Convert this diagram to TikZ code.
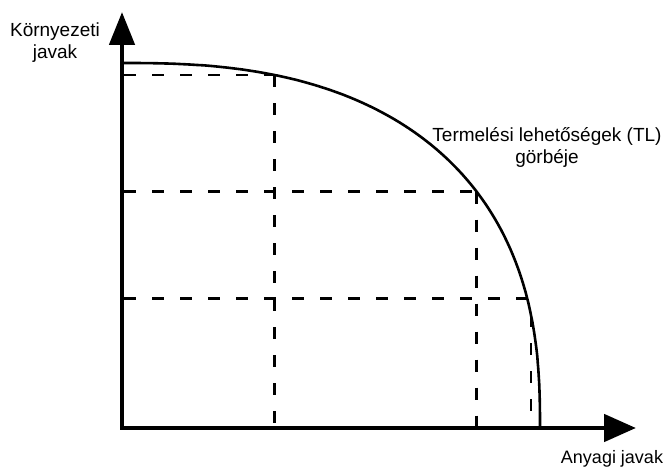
\documentclass[tikz,border=0pt]{standalone}
\usepackage{fontspec}
\setmainfont{Liberation Sans}
\usetikzlibrary{arrows.meta,calc}
\begin{document}
\begin{tikzpicture}[x=1pt,y=1pt,
  axisline/.style={line width=4.8pt,line join=miter},
  tl/.style={line width=2.6pt},
  dashline/.style={line width=2.6pt,dash pattern=on 12pt off 16pt},
  lbl/.style={font=\fontsize{19}{22}\selectfont,align=center,inner sep=0pt}]
\useasboundingbox (0,0) rectangle (668,470);
% axes
\coordinate (O) at (122,42);
\coordinate (ytip) at (122,458);
\coordinate (xtip) at (636,42);
\draw[axisline,{Triangle[length=33pt,width=25pt]}-{Triangle[length=32pt,width=27pt]}] (ytip) -- (O) -- (xtip);
% production possibilities curve (superellipse, n = 2.5)
\draw[tl] plot[domain=0:90,samples=150]
  ({122+418*exp(0.8*ln(max(cos(\x),0.0001)))},{42+365*exp(0.8*ln(max(sin(\x),0.0001)))});
% points on the curve
\coordinate (P1) at ({122+418*exp(0.8*ln(cos(73.5)))},{42+365*exp(0.8*ln(sin(73.5)))});
\coordinate (P2) at ({122+418*exp(0.8*ln(cos(35.5)))},{42+365*exp(0.8*ln(sin(35.5)))});
\coordinate (P3) at ({122+418*exp(0.8*ln(cos(15.9)))},{42+365*exp(0.8*ln(sin(15.9)))});
\coordinate (Q3) at ({122+418*exp(0.8*ln(cos(13.3)))},{42+365*exp(0.8*ln(sin(13.3)))});
% dashed guides
\draw[dashline] ($(P1 -| O)+(2,0)$) -- (P1);
\draw[dashline] (P1) -- ($(P1 |- O)+(0,2)$);
\draw[dashline] ($(P2 -| O)+(2,0)$) -- (P2);
\draw[dashline] (P2) -- ($(P2 |- O)+(0,2)$);
\draw[dashline] ($(P3 -| O)+(2,0)$) -- (P3);
\draw[dashline] (Q3) -- ($(Q3 |- O)+(0,2)$);
% labels
\node[lbl] (ylab) at (55,427) {Környezeti\\javak};
\node[lbl] (curvelab) at (547,323) {Termelési lehetőségek (TL)\\görbéje};
\node[lbl,font=\fontsize{18}{21}\selectfont] (xlab) at (612,11) {Anyagi javak};
\end{tikzpicture}
\end{document}
